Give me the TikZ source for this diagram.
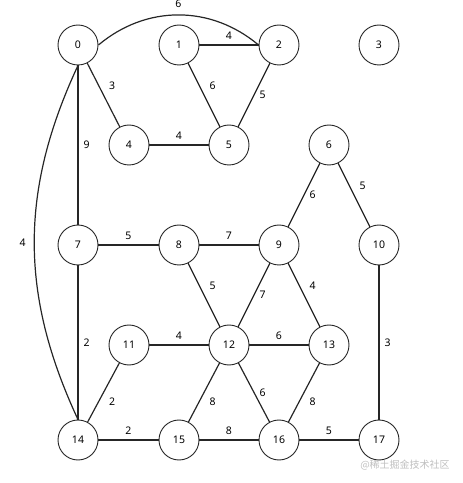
\documentclass[tikz,border=0pt]{standalone}
\usepackage{fontspec}
\setmainfont{Noto Sans}
\newfontfamily\cjkfont{Noto Sans CJK SC}
\begin{document}
\begin{tikzpicture}[x=1pt, y=1pt,
  vertex/.style={circle, draw=black!85, line width=0.9pt, minimum size=40pt,
    inner sep=0pt, font=\fontsize{10.5}{12}\selectfont},
  edge/.style={draw=black!85, line width=1.2pt},
  weight/.style={font=\fontsize{10.5}{12}\selectfont, inner sep=5pt}]
  \useasboundingbox (0,0) rectangle (463,483);
  % Vertices
  \foreach \n/\x/\y in {0/78/438, 1/179/438, 2/279/438, 3/379/438,
      4/129/338, 5/229/338, 6/329/338,
      7/78/238, 8/179/238, 9/279/238, 10/379/238,
      11/129/138, 12/229/138, 13/329/138,
      14/78/43, 15/179/43, 16/279/43, 17/379/43}{
    \node[vertex] (n\n) at (\x,\y) {\n};
  }
  % Straight edges: from/to/weight/label side
  \foreach \a/\b/\w/\p in {1/2/4/above, 4/5/4/above, 0/4/3/above right,
      1/5/6/above right, 2/5/5/right, 0/7/9/right, 6/9/6/right,
      6/10/5/above right, 7/8/5/above, 8/9/7/above, 8/12/5/above right,
      9/12/7/right, 9/13/4/above right, 10/17/3/right, 7/14/2/right,
      11/12/4/above, 12/13/6/above, 11/14/2/below right,
      12/15/8/below right, 12/16/6/right, 13/16/8/below right,
      14/15/2/above, 15/16/8/above, 16/17/5/above}{
    \draw[edge] (n\a) -- node[weight, \p] {\w} (n\b);
  }
  % Curved edges
  \draw[edge] (n0.east) to[bend left=40] node[weight, above=1.5pt] {6} (n2.west);
  \draw[edge] (n0.south) to[bend right=25] node[weight, left=3pt] {4} (n14.north);
  % Watermark
  \node[text=black!25, font=\cjkfont\fontsize{10}{12}\selectfont] (mark)
    at (405,18) {@稀土掘金技术社区};
\end{tikzpicture}
\end{document}
